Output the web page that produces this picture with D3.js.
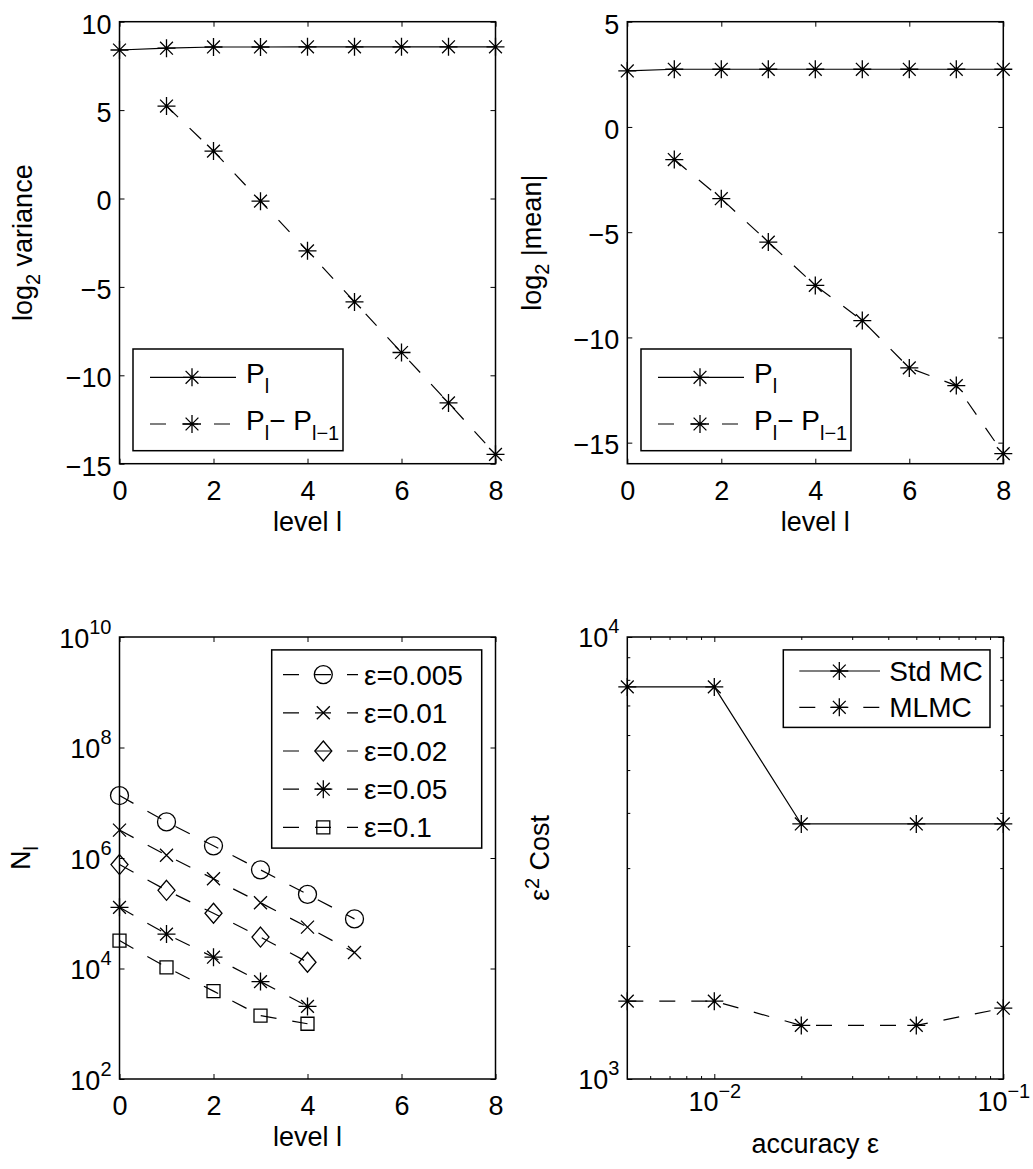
<!DOCTYPE html>
<html>
<head>
<meta charset="utf-8">
<script src="https://d3js.org/d3.v7.min.js"></script>
<style>
  body { margin: 0; background: #fff; }
  svg { display: block; font-family: "Liberation Sans", Arial, Helvetica, sans-serif; font-size: 27px; }
  .axis text { font-family: "Liberation Sans", Arial, Helvetica, sans-serif; font-size: 27px; fill: #000; }
  .axis line { stroke: #000; stroke-width: 1; }
  .axis path { display: none; }
  .legend text { font-size: 28px; }
</style>
</head>
<body>
<script>
/***** Data *****/

// Top row: log2 variance and log2 |mean| per level
var levels = [0, 1, 2, 3, 4, 5, 6, 7, 8];
var diffLevels = [1, 2, 3, 4, 5, 6, 7, 8];
var varianceP = [8.40, 8.50, 8.57, 8.57, 8.58, 8.58, 8.58, 8.58, 8.58];
var varianceDiff = [5.23, 2.68, -0.15, -2.96, -5.85, -8.71, -11.56, -14.47];
var meanP = [2.66, 2.74, 2.74, 2.74, 2.74, 2.74, 2.74, 2.74, 2.74];
var meanDiff = [-1.55, -3.41, -5.47, -7.53, -9.20, -11.45, -12.29, -15.52];

// Bottom left: number of samples N_l per level, one array per accuracy
var epsLabels = ["ε=0.005", "ε=0.01", "ε=0.02", "ε=0.05", "ε=0.1"];
var samples005 = [1.35e7, 4.5e6, 1.66e6, 6.1e5, 2.2e5, 7.9e4];
var samples01 = [3.2e6, 1.12e6, 4.2e5, 1.55e5, 5.6e4, 1.95e4];
var samples02 = [7.6e5, 2.6e5, 1.0e5, 3.7e4, 1.3e4];
var samples05 = [1.28e5, 4.2e4, 1.6e4, 5.8e3, 2.06e3];
var samples1 = [3.2e4, 1.05e4, 3.9e3, 1.4e3, 1.0e3];

// Bottom right: eps^2 cost versus accuracy
var accuracy = [0.005, 0.01, 0.02, 0.05, 0.1];
var costStdMC = [7710, 7710, 3776, 3776, 3776];
var costMLMC = [1500, 1500, 1322, 1322, 1446];

// Tick values
var levelTicks = [0, 2, 4, 6, 8];
var varianceTicks = [-15, -10, -5, 0, 5, 10];
var meanTicks = [-15, -10, -5, 0, 5];
var samplesTicks = [1e2, 1e4, 1e6, 1e8, 1e10];
var costTicks = [1e3, 1e4];
var accuracyTicks = [1e-2, 1e-1];

(function(d3) {
  "use strict";

  /***** Configuration *****/
  var plotWidth = 376;
  var plotHeight = 442;
  var smallFont = 20;
  var dash = "16,16";

  var svg = d3.select("body")
    .append("svg")
    .attr("width", 1033)
    .attr("height", 1169);

  function createPanel(left, top) {
    return svg.append("g")
      .attr("transform", "translate(" + left + "," + top + ")");
  }

  // Marker shapes centred on 0,0 (MATLAB style)
  function markerPath(type) {
    var r = 9, d = 6.4;
    switch (type) {
      case "asterisk":
        return "M" + (-r) + ",0H" + r + "M0," + (-r) + "V" + r +
          "M" + (-d) + "," + (-d) + "L" + d + "," + d + "M" + (-d) + "," + d + "L" + d + "," + (-d);
      case "circle":
        return "M9,0A9,9 0 1 1 -9,0A9,9 0 1 1 9,0Z";
      case "cross":
        return "M-6.5,-6.5L6.5,6.5M-6.5,6.5L6.5,-6.5";
      case "diamond":
        return "M0,-10L8.5,0L0,10L-8.5,0Z";
      case "square":
        return "M-6.5,-6.5H6.5V6.5H-6.5Z";
    }
    return "";
  }

  function drawMarker(g, x, y, type) {
    g.append("path")
      .attr("transform", "translate(" + x + "," + y + ")")
      .attr("d", markerPath(type))
      .attr("fill", "none")
      .attr("stroke", "#000")
      .attr("stroke-width", 1.3);
  }

  function drawSeries(g, x, y, xs, ys, dashed, marker) {
    var points = xs.map(function(v, i) { return [v, ys[i]]; });
    var line = d3.line()
      .x(function(d) { return x(d[0]); })
      .y(function(d) { return y(d[1]); });

    g.append("path")
      .datum(points)
      .attr("d", line)
      .attr("fill", "none")
      .attr("stroke", "#000")
      .attr("stroke-width", 1.2)
      .attr("stroke-dasharray", dashed ? dash : null);

    points.forEach(function(p) {
      drawMarker(g, x(p[0]), y(p[1]), marker);
    });
  }

  // Text made of parts, some of them raised or lowered (sub/superscripts)
  function richText(text, parts) {
    var shift = 0;
    parts.forEach(function(p) {
      var target = p.dy || 0;
      var span = text.append("tspan")
        .attr("dy", target - shift)
        .text(p.t);
      if (p.small) {
        span.attr("font-size", smallFont);
      }
      shift = target;
    });
    return text;
  }

  function drawBox(g) {
    g.append("rect")
      .attr("width", plotWidth)
      .attr("height", plotHeight)
      .attr("fill", "none")
      .attr("stroke", "#000")
      .attr("stroke-width", 1.5);
  }

  function xLabel(g, parts, offset) {
    richText(g.append("text")
      .attr("x", plotWidth / 2)
      .attr("y", plotHeight + offset)
      .attr("text-anchor", "middle"), parts);
  }

  function yLabel(g, parts, offset) {
    richText(g.append("text")
      .attr("transform", "translate(" + (-offset) + "," + (plotHeight / 2) + ") rotate(-90)")
      .attr("text-anchor", "middle"), parts);
  }

  function ticksOnly(g, axis, transform) {
    g.append("g")
      .attr("class", "axis")
      .attr("transform", transform)
      .call(axis.tickSizeOuter(0).tickFormat(""));
  }

  function linearAxes(g, x, y, xTicks, yTicks) {
    g.append("g")
      .attr("class", "axis")
      .attr("transform", "translate(0," + plotHeight + ")")
      .call(d3.axisBottom(x).tickValues(xTicks).tickSizeInner(-5).tickSizeOuter(0)
        .tickPadding(17).tickFormat(d3.format("d")));
    ticksOnly(g, d3.axisTop(x).tickValues(xTicks).tickSizeInner(-5), null);

    g.append("g")
      .attr("class", "axis")
      .call(d3.axisLeft(y).tickValues(yTicks).tickSizeInner(-5).tickSizeOuter(0)
        .tickPadding(8).tickFormat(d3.format("d")))
      .selectAll("text")
      .attr("dy", "0.42em");
    ticksOnly(g, d3.axisRight(y).tickValues(yTicks).tickSizeInner(-5),
      "translate(" + plotWidth + ",0)");
  }

  // "10" followed by the exponent as superscript
  function powerLabels(axisGroup, baseY, supDy) {
    axisGroup.selectAll("text").each(function(d) {
      var t = d3.select(this);
      var e = Math.round(Math.log10(d));
      t.text("10").attr("dy", null).attr("y", baseY);
      t.append("tspan")
        .attr("dy", supDy)
        .attr("font-size", smallFont)
        .text(d3.format("d")(e));
    });
  }

  function drawLegend(g, box, rows) {
    var lg = g.append("g").attr("class", "legend");
    lg.append("rect")
      .attr("x", box.x)
      .attr("y", box.y)
      .attr("width", box.w)
      .attr("height", box.h)
      .attr("fill", "#fff")
      .attr("stroke", "#000")
      .attr("stroke-width", 1.5);

    rows.forEach(function(row) {
      var cy = box.y + row.y;
      lg.append("line")
        .attr("x1", box.x + box.line[0])
        .attr("x2", box.x + box.line[1])
        .attr("y1", cy)
        .attr("y2", cy)
        .attr("stroke", "#000")
        .attr("stroke-width", 1.2)
        .attr("stroke-dasharray", row.dashed ? dash : null);
      drawMarker(lg, box.x + box.marker, cy, row.marker);
      richText(lg.append("text")
        .attr("x", box.x + box.text)
        .attr("y", cy + row.base), row.parts);
    });
  }

  var pl = [{ t: "P" }, { t: "l", dy: 10, small: true }];
  var plDiff = [{ t: "P" }, { t: "l", dy: 10, small: true }, { t: "− P" },
    { t: "l−1", dy: 10, small: true }];
  var levelParts = [{ t: "level l" }];

  /***** Panel 1 : log2 variance *****/
  var g1 = createPanel(119.5, 21.7);
  var x1 = d3.scaleLinear().domain([0, 8]).range([0, plotWidth]);
  var y1 = d3.scaleLinear().domain([-15, 10]).range([plotHeight, 0]);
  linearAxes(g1, x1, y1, levelTicks, varianceTicks);
  drawSeries(g1, x1, y1, levels, varianceP, false, "asterisk");
  drawSeries(g1, x1, y1, diffLevels, varianceDiff, true, "asterisk");
  drawBox(g1);
  drawLegend(g1, { x: 13.5, y: 327.3, w: 210, h: 101.7, line: [17, 103], marker: 59, text: 113 }, [
    { y: 28.3, dashed: false, marker: "asterisk", parts: pl, base: 6 },
    { y: 75, dashed: true, marker: "asterisk", parts: plDiff, base: 6 }
  ]);
  xLabel(g1, levelParts, 67.4);
  yLabel(g1, [{ t: "log" }, { t: "2", dy: 8, small: true }, { t: " variance" }], 88);

  /***** Panel 2 : log2 |mean| *****/
  var g2 = createPanel(627.3, 21.7);
  var x2 = d3.scaleLinear().domain([0, 8]).range([0, plotWidth]);
  var y2 = d3.scaleLinear().domain([-16, 5]).range([plotHeight, 0]);
  linearAxes(g2, x2, y2, levelTicks, meanTicks);
  drawSeries(g2, x2, y2, levels, meanP, false, "asterisk");
  drawSeries(g2, x2, y2, diffLevels, meanDiff, true, "asterisk");
  drawBox(g2);
  drawLegend(g2, { x: 13.7, y: 327.3, w: 210, h: 101.7, line: [17, 103], marker: 59, text: 113 }, [
    { y: 28.3, dashed: false, marker: "asterisk", parts: pl, base: 6 },
    { y: 75, dashed: true, marker: "asterisk", parts: plDiff, base: 6 }
  ]);
  xLabel(g2, levelParts, 67.4);
  yLabel(g2, [{ t: "log" }, { t: "2", dy: 8, small: true }, { t: " |mean|" }], 86);

  /***** Panel 3 : N_l *****/
  var g3 = createPanel(119.5, 637);
  var x3 = d3.scaleLinear().domain([0, 8]).range([0, plotWidth]);
  var y3 = d3.scaleLog().domain([1e2, 1e10]).range([plotHeight, 0]);

  g3.append("g")
    .attr("class", "axis")
    .attr("transform", "translate(0," + plotHeight + ")")
    .call(d3.axisBottom(x3).tickValues(levelTicks).tickSizeInner(-5).tickSizeOuter(0)
      .tickPadding(17).tickFormat(d3.format("d")));
  ticksOnly(g3, d3.axisTop(x3).tickValues(levelTicks).tickSizeInner(-5), null);
  var left3 = g3.append("g")
    .attr("class", "axis")
    .call(d3.axisLeft(y3).tickValues(samplesTicks).tickSizeInner(-5).tickSizeOuter(0).tickPadding(8));
  powerLabels(left3, 10, -14);
  ticksOnly(g3, d3.axisRight(y3).tickValues(samplesTicks).tickSizeInner(-5),
    "translate(" + plotWidth + ",0)");

  var sampleSeries = [samples005, samples01, samples02, samples05, samples1];
  var sampleMarkers = ["circle", "cross", "diamond", "asterisk", "square"];
  sampleSeries.forEach(function(s, i) {
    drawSeries(g3, x3, y3, levels.slice(0, s.length), s, true, sampleMarkers[i]);
  });
  drawBox(g3);
  drawLegend(g3, { x: 152.2, y: 12.9, w: 210, h: 198.2, line: [11.3, 86.3], marker: 51.6, text: 92.3 },
    epsLabels.map(function(label, i) {
      return { y: 24.7 + i * 38.2, dashed: true, marker: sampleMarkers[i], parts: [{ t: label }], base: 10 };
    }));
  xLabel(g3, levelParts, 67.4);
  yLabel(g3, [{ t: "N" }, { t: "l", dy: 8, small: true }], 90);

  /***** Panel 4 : eps^2 cost *****/
  var g4 = createPanel(627.3, 637);
  var x4 = d3.scaleLog().domain([0.005, 0.1]).range([0, plotWidth]);
  var y4 = d3.scaleLog().domain([1e3, 1e4]).range([plotHeight, 0]);
  var xMinor = [0.006, 0.007, 0.008, 0.009, 0.02, 0.03, 0.04, 0.05, 0.06, 0.07, 0.08, 0.09];
  var yMinor = [2000, 3000, 4000, 5000, 6000, 7000, 8000, 9000];

  var bottom4 = g4.append("g")
    .attr("class", "axis")
    .attr("transform", "translate(0," + plotHeight + ")")
    .call(d3.axisBottom(x4).tickValues(accuracyTicks).tickSizeInner(-5).tickSizeOuter(0));
  powerLabels(bottom4, 32, -13);
  ticksOnly(g4, d3.axisBottom(x4).tickValues(xMinor).tickSizeInner(-3), "translate(0," + plotHeight + ")");
  ticksOnly(g4, d3.axisTop(x4).tickValues(accuracyTicks).tickSizeInner(-5), null);
  ticksOnly(g4, d3.axisTop(x4).tickValues(xMinor).tickSizeInner(-3), null);

  var left4 = g4.append("g")
    .attr("class", "axis")
    .call(d3.axisLeft(y4).tickValues(costTicks).tickSizeInner(-5).tickSizeOuter(0).tickPadding(8));
  powerLabels(left4, 9, -14);
  ticksOnly(g4, d3.axisLeft(y4).tickValues(yMinor).tickSizeInner(-3), null);
  ticksOnly(g4, d3.axisRight(y4).tickValues(costTicks).tickSizeInner(-5), "translate(" + plotWidth + ",0)");
  ticksOnly(g4, d3.axisRight(y4).tickValues(yMinor).tickSizeInner(-3), "translate(" + plotWidth + ",0)");

  drawSeries(g4, x4, y4, accuracy, costStdMC, false, "asterisk");
  drawSeries(g4, x4, y4, accuracy, costMLMC, true, "asterisk");
  drawBox(g4);
  drawLegend(g4, { x: 156, y: 12.9, w: 206.7, h: 77.5, line: [16, 96.7], marker: 56, text: 106 }, [
    { y: 21.1, dashed: false, marker: "asterisk", parts: [{ t: "Std MC" }], base: 10 },
    { y: 57.4, dashed: true, marker: "asterisk", parts: [{ t: "MLMC" }], base: 10 }
  ]);
  xLabel(g4, [{ t: "accuracy ε" }], 74);
  yLabel(g4, [{ t: "ε" }, { t: "2", dy: -10, small: true }, { t: " Cost" }], 78.5);
})(d3);
</script>
</body>
</html>
